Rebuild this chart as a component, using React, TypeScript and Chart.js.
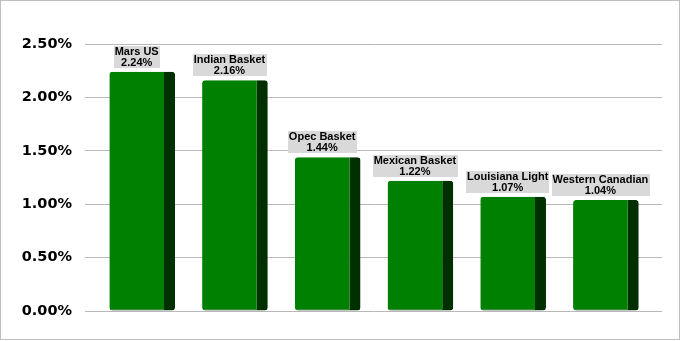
import React, { useEffect, useRef } from 'react';
import { Chart, registerables } from 'chart.js';

Chart.register(...registerables);

const categories = ['Mars US', 'Indian Basket', 'Opec Basket', 'Mexican Basket', 'Louisiana Light', 'Western Canadian'];
const values = [2.24, 2.16, 1.44, 1.22, 1.07, 1.04];
const yTicks = [0, 0.5, 1.0, 1.5, 2.0, 2.5];

const fmt = (v: number) => v.toFixed(2) + '%';

const labelPlugin = {
  id: 'barLabels',
  afterDatasetsDraw(chart: any) {
    const ctx = chart.ctx;
    const meta = chart.getDatasetMeta(0);
    ctx.save();
    ctx.font = 'bold 11px "Liberation Sans", Arial, sans-serif';
    ctx.textAlign = 'center';
    ctx.textBaseline = 'alphabetic';
    meta.data.forEach((el: any, i: number) => {
      const lines = [categories[i], fmt(values[i])];
      const w = Math.max(...lines.map((l) => ctx.measureText(l).width)) + 2;
      const cx = el.x - 5.5;
      const bottom = el.y - 4;
      const top = bottom - 22;
      ctx.fillStyle = '#d9d9d9';
      ctx.fillRect(Math.round(cx - w / 2), Math.round(top), Math.round(w), 22);
      ctx.fillStyle = '#000';
      ctx.fillText(lines[0], cx, Math.round(top) + 9);
      ctx.fillText(lines[1], cx, Math.round(top) + 20);
    });
    ctx.restore();
  },
};

export default function App() {
  const ref = useRef<HTMLCanvasElement>(null);
  useEffect(() => {
    if (!ref.current) return;
    const chart = new Chart(ref.current, {
      type: 'bar',
      data: {
        labels: categories,
        datasets: [
          {
            data: values.map((v, i) => ({ x: i, y: v })) as any,
            backgroundColor: '#008000',
            borderColor: '#003000',
            borderWidth: { top: 0, left: 0, bottom: 1, right: 11 } as any,
            borderSkipped: false,
            borderRadius: 3,
            categoryPercentage: 1,
            barPercentage: 0.708,
          },
        ],
      },
      options: {
        responsive: false,
        animation: false,
        devicePixelRatio: 1,
        layout: { padding: { left: 21, right: 17, top: 43, bottom: 28 } },
        plugins: { legend: { display: false }, tooltip: { enabled: false } },
        scales: {
          x: {
            type: 'linear',
            min: -0.6168,
            max: 5.605,
            offset: false,
            display: false,
            afterBuildTicks: (s: any) => {
              s.ticks = categories.map((_, i) => ({ value: i }));
            },
          },
          y: {
            min: 0,
            max: 2.5,
            afterBuildTicks: (s: any) => {
              s.ticks = yTicks.map((v) => ({ value: v }));
            },
            afterFit: (s: any) => {
              s.width = 63;
            },
            border: { display: false },
            grid: { color: '#b8b8b8', lineWidth: 1, drawTicks: false },
            ticks: {
              padding: 13,
              color: '#000',
              font: { family: '"DejaVu Sans", Verdana, sans-serif', size: 14.5, weight: 'bold' },
              callback: (v: any) => fmt(Number(v)),
            },
          },
        },
      },
      plugins: [labelPlugin],
    });
    return () => chart.destroy();
  }, []);
  return (
    <div
      style={{
        position: 'fixed',
        left: 0,
        top: 0,
        width: 680,
        height: 340,
        boxSizing: 'border-box',
        border: '1px solid #bfbfbf',
        background: '#fff',
      }}
    >
      <canvas ref={ref} width={678} height={338} style={{ display: 'block' }} />
    </div>
  );
}
